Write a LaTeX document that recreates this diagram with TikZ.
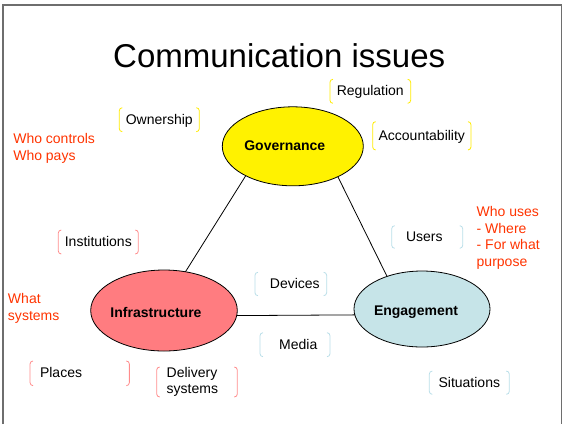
\documentclass[tikz,border=0pt]{standalone}
\usepackage{fontspec}
\setmainfont{Liberation Sans}
\usetikzlibrary{shapes.geometric}
\definecolor{redtxt}{RGB}{255,51,0}
\definecolor{salmonfill}{RGB}{255,124,128}
\definecolor{bluefill}{RGB}{198,228,232}
\definecolor{ybrk}{RGB}{255,235,0}
\definecolor{sbrk}{RGB}{255,140,140}
\definecolor{bbrk}{RGB}{185,222,232}
\definecolor{framegray}{RGB}{110,110,110}
\begin{document}
\begin{tikzpicture}[x=1pt,y=-1pt,
  every node/.style={inner sep=0pt, outer sep=0pt},
  oval/.style={ellipse, draw=black, line width=0.8pt},
  ovaltext/.style={font=\fontsize{14}{16.5}\selectfont\bfseries},
  tag/.style={font=\fontsize{14}{16.5}\selectfont, text height=11pt, text depth=2pt},
  tagtwo/.style={font=\fontsize{14}{16.5}\selectfont},
  note/.style={font=\fontsize{14}{16.5}\selectfont, text=redtxt, align=left, anchor=north west},
  link/.style={draw=black, line width=0.8pt},
  brk/.style={line width=0.8pt, rounded corners=3pt}
]
\useasboundingbox (0,0) rectangle (564,424);
\draw[framegray, line width=1.2pt] (3,424) -- (3,5) -- (561.5,5) -- (561.5,424);

\node[font=\fontsize{33}{40}\selectfont, anchor=base] (title) at (279.2,67.7) {Communication issues};

% ellipses
\node[oval, fill=yellow, minimum width=141pt, minimum height=79pt,
  label={[ovaltext, name=govlbl, xshift=-8pt, yshift=0.5pt]center:Governance}] (gov) at (292.8,146.3) {};
\node[oval, fill=salmonfill, minimum width=146.6pt, minimum height=81pt,
  label={[ovaltext, name=inflbl, xshift=-8pt, yshift=-1.5pt]center:Infrastructure}] (inf) at (164,310.5) {};
\node[oval, fill=bluefill, minimum width=136pt, minimum height=76pt,
  label={[ovaltext, name=englbl, xshift=-6pt, yshift=-3pt]center:Engagement}] (eng) at (422,309) {};

% connectors
\draw[link] (gov.212) -- (inf.61);
\draw[link] (gov.326) -- (eng.137);
\draw[link] (inf.-4) -- (eng.185);

% bracketed tags
\node[tag, minimum width=80pt, minimum height=24pt] (own) at (159.3,119.7) {Ownership};
\node[tag, minimum width=80.7pt, minimum height=24pt] (reg) at (370.3,91.3) {Regulation};
\node[tag, minimum width=98.3pt, minimum height=28.3pt] (acc) at (421.8,135.8) {Accountability};
\node[tag, minimum width=80pt, minimum height=24pt] (ins) at (98.3,242) {Institutions};
\node[tag, inner xsep=10pt, text width=79.3pt, align=left, minimum height=24.7pt] (pla) at (79.7,373.3) {Places};
\node[tagtwo, inner xsep=10pt, text width=60.6pt, align=left, minimum height=30pt] (del) at (197,382) {Delivery\\systems};
\node[tag, minimum width=71.7pt, minimum height=23.4pt] (dev) at (290.8,284) {\hspace*{8pt}Devices};
\node[tag, minimum width=70pt, minimum height=24pt] (med) at (295,344.7) {\hspace*{6.6pt}Media};
\node[tag, minimum width=71pt, minimum height=22.6pt] (usr) at (427.2,237) {Users\hspace*{5.8pt}};
\node[tag, minimum width=80pt, minimum height=23.3pt] (sit) at (469.3,382.7) {Situations};

\foreach \n/\c in {own/ybrk,reg/ybrk,acc/ybrk,ins/sbrk,pla/sbrk,del/sbrk,dev/bbrk,med/bbrk,usr/bbrk,sit/bbrk}{
  \draw[brk, \c] ([xshift=3pt]\n.north west) -- (\n.north west) -- (\n.south west) -- ([xshift=3pt]\n.south west);
  \draw[brk, \c] ([xshift=-3pt]\n.north east) -- (\n.north east) -- (\n.south east) -- ([xshift=-3pt]\n.south east);
}

% red notes
\node[note] (ctl) at (13.3,133.5) {Who controls\\Who pays};
\node[note] (sys) at (8,293.5) {What\\systems};
\node[note] (use) at (476.7,206.5) {Who uses\\- Where\\- For what\\purpose};
\end{tikzpicture}
\end{document}
